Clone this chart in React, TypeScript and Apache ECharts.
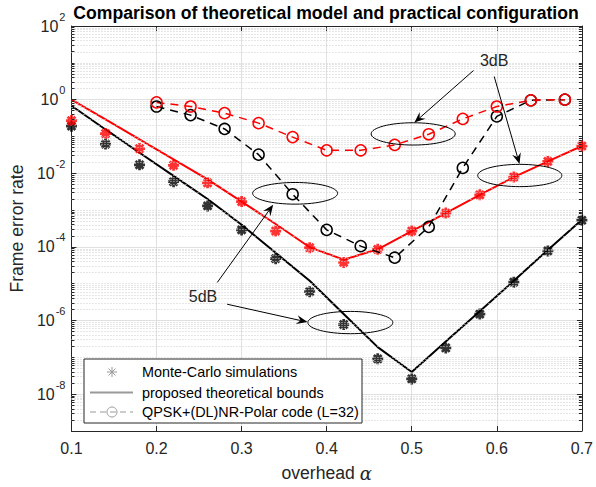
import React, { useEffect, useRef } from "react";
import * as echarts from "echarts";

// ---------- data ----------
const alphaMC = [0.1, 0.14, 0.18, 0.22, 0.26, 0.3, 0.34, 0.38, 0.42, 0.46, 0.5, 0.54, 0.58, 0.62, 0.66, 0.7];
const mc5dB = [0.19, 0.062, 0.017, 5.9e-3, 1.3e-3, 2.9e-4, 4.8e-5, 6.1e-6, 7.8e-7, 9.1e-8, 2.6e-8, 1.8e-7, 1.5e-6, 1.1e-5, 7.8e-5, 5.3e-4];
const mc3dB = [0.27, 0.12, 0.047, 0.0165, 5.5e-3, 1.7e-3, 2.7e-4, 9.5e-5, 3.8e-5, 8.6e-5, 2.7e-4, 8.3e-4, 2.6e-3, 7.9e-3, 0.021, 0.055];
const bound5dB = [0.68, 0.155, 0.036, 8.5e-3, 2.0e-3, 4.0e-4, 6.9e-5, 1.2e-5, 1.5e-6, 1.9e-7, 4.0e-8, 2.7e-7, 1.8e-6, 1.2e-5, 8.3e-5, 5.5e-4];
const bound3dB = [1.0, 0.29, 0.083, 0.024, 6.8e-3, 1.7e-3, 4.2e-4, 9.8e-5, 4.5e-5, 8.6e-5, 2.7e-4, 8.3e-4, 2.6e-3, 7.9e-3, 0.021, 0.055];
const alphaPolar = [0.2, 0.24, 0.28, 0.32, 0.36, 0.4, 0.44, 0.48, 0.52, 0.56, 0.6, 0.64, 0.68];
const polar5dB = [0.65, 0.38, 0.16, 0.032, 2.7e-3, 2.9e-4, 1.05e-4, 5.1e-5, 3.5e-4, 0.014, 0.35, 0.96, 1.0];
const polar3dB = [0.84, 0.65, 0.43, 0.23, 0.096, 0.042, 0.042, 0.059, 0.115, 0.3, 0.65, 0.96, 1.0];
const xMin = 0.1;
const xMax = 0.7;
const xStep = 0.1;
const yDecMin = -9;
const yDecMax = 2;

// annotations, anchored in data space [alpha, FER]
const ellipses = [
  { at: [0.5017, 0.1173], rxA: 0.0487, ryDec: 0.296 },
  { at: [0.627, 8.7e-3], rxA: 0.0487, ryDec: 0.296 },
  { at: [0.3629, 2.855e-3], rxA: 0.0492, ryDec: 0.288 },
  { at: [0.4278, 8.82e-7], rxA: 0.0492, ryDec: 0.296 },
];
const arrows3dB = [
  { from: [0.5726, 6.18], to: [0.5031, 0.239] },
  { from: [0.5969, 4.26], to: [0.6267, 0.01775] },
];
const arrows5dB = [
  { from: [0.2714, 1.084e-5], to: [0.3371, 1.4e-3] },
  { from: [0.283, 2.775e-6], to: [0.3774, 9.1e-7] },
];
const label3dB = { text: "3dB", at: [0.5969, 11.47] };
const label5dB = { text: "5dB", at: [0.2546, 4.55e-6] };

const legendTexts = [
  "Monte-Carlo simulations",
  "proposed theoretical bounds",
  "QPSK+(DL)NR-Polar code (L=32)",
];
const titleText = "Comparison of theoretical model and practical configuration";

// ---------- layout / style ----------
const FONT = "'Liberation Sans', Arial, Helvetica, sans-serif";
const AX = "#262626";
const G = { left: 67, top: 26, width: 518, height: 414 };
const pxX = (xMax - xMin) / G.width;

const toPts = (xs: number[], ys: number[]) => xs.map((x, i) => [x, Math.log10(ys[i])]);

function asteriskPath(): string {
  const c = 5, L = 5, W = 1.25;
  let d = "";
  for (const deg of [0, 45, 90, 135]) {
    const a = (deg * Math.PI) / 180;
    const ca = Math.cos(a), sa = Math.sin(a);
    const pts = [[-L, -W], [L, -W], [L, W], [-L, W]].map(([u, v]) => [c + u * ca - v * sa, c + u * sa + v * ca]);
    d += "M" + pts.map((p) => p[0].toFixed(3) + "," + p[1].toFixed(3)).join("L") + "Z";
  }
  return "path://" + d;
}
const ASTER = asteriskPath();

function arrow(x1: number, y1: number, x2: number, y2: number) {
  const dx = x2 - x1, dy = y2 - y1;
  const L = Math.hypot(dx, dy);
  const ux = dx / L, uy = dy / L;
  const hl = 11, hw = 4.5, notch = 7;
  const bx = x2 - ux * hl, by = y2 - uy * hl;
  const nx = -uy, ny = ux;
  return [
    { type: "line", z: 100, shape: { x1, y1, x2: x2 - ux * notch, y2: y2 - uy * notch }, style: { stroke: "#000", lineWidth: 1 } },
    {
      type: "polygon", z: 100,
      shape: { points: [[x2, y2], [bx + nx * hw, by + ny * hw], [x2 - ux * notch, y2 - uy * notch], [bx - nx * hw, by - ny * hw]] },
      style: { fill: "#000" },
    },
  ];
}

export default function App() {
  const ref = useRef<HTMLDivElement>(null);
  useEffect(() => {
    document.body.style.margin = "0";
    const chart = echarts.init(ref.current!, null, { renderer: "svg" });

    const minorGrid: any[] = [];
    const ticks: any[] = [];
    for (let k = yDecMin; k < yDecMax; k++) {
      for (let m = 1; m <= 9; m++) {
        if (m === 1 && k === yDecMin) continue;
        const v = k + Math.log10(m);
        const major = m === 1 && k % 2 === 0;
        if (!major) minorGrid.push({ yAxis: v });
        const len = (major ? 5 : 3) * pxX;
        ticks.push([{ coord: [xMin, v] }, { coord: [xMin + len, v] }]);
        ticks.push([{ coord: [xMax, v] }, { coord: [xMax - len, v] }]);
      }
    }

    const asterSeries = (name: string, ys: number[], color: string) => ({
      name, type: "scatter", data: toPts(alphaMC, ys), symbol: ASTER, symbolSize: 11, z: 4,
      itemStyle: { color },
    });
    const boundSeries = (name: string, ys: number[], color: string) => ({
      name, type: "line", data: toPts(alphaMC, ys), showSymbol: false, symbol: "none", z: 3,
      lineStyle: { color, width: 2 },
    });
    const polarSeries = (name: string, ys: number[], color: string) => ({
      name, type: "line", data: toPts(alphaPolar, ys), symbol: "circle", symbolSize: 11, z: 5,
      lineStyle: { color, width: 1.5, type: [8, 6] },
      itemStyle: { color: "rgba(0,0,0,0)", borderColor: color, borderWidth: 1.5 },
    });

    chart.setOption({
      animation: false,
      backgroundColor: "#fff",
      grid: { left: G.left, top: G.top, width: G.width, height: G.height, containLabel: false },
      xAxis: [
        {
          type: "value", min: xMin, max: xMax, interval: xStep, position: "bottom",
          axisLine: { show: true, onZero: false, lineStyle: { color: AX, width: 1 } },
          axisTick: { show: true, inside: true, length: 5, lineStyle: { color: AX } },
          axisLabel: { formatter: (v: number) => v.toFixed(1), color: AX, fontSize: 16, fontFamily: FONT, margin: 9 },
          splitLine: { show: true, lineStyle: { color: "#e0e0e0", width: 1 } },
          name: "{t|overhead }{a|α}", nameLocation: "middle", nameGap: 33,
          nameTextStyle: {
            color: AX,
            rich: {
              t: { fontSize: 17.6, fontFamily: FONT, color: AX },
              a: { fontSize: 18, fontFamily: "'DejaVu Serif', serif", fontStyle: "italic", color: AX },
            },
          },
        },
        {
          type: "value", min: xMin, max: xMax, interval: xStep, position: "top",
          axisLine: { show: true, onZero: false, lineStyle: { color: AX, width: 1 } },
          axisTick: { show: true, inside: true, length: 5, lineStyle: { color: AX } },
          axisLabel: { show: false }, splitLine: { show: false },
        },
      ],
      yAxis: [
        {
          type: "value", min: yDecMin, max: yDecMax, interval: 1,
          axisLine: { show: true, onZero: false, lineStyle: { color: AX, width: 1 } },
          axisTick: { show: false },
          axisLabel: {
            margin: 6,
            formatter: (v: number) => {
              const k = Math.round(v);
              return k % 2 === 0 ? `{b|10}{s|${k === 0 ? 0 : k}}` : "";
            },
            rich: {
              b: { fontSize: 16, fontFamily: FONT, color: AX, lineHeight: 16, padding: [10, 0, 0, 0], verticalAlign: "bottom" },
              s: { fontSize: 11, fontFamily: FONT, color: AX, lineHeight: 11, padding: [0, 0, 12, 1], verticalAlign: "bottom" },
            },
          },
          splitLine: { show: true, lineStyle: { color: ["rgba(0,0,0,0)", "#e0e0e0"], width: 1 } },
          name: "Frame error rate", nameLocation: "middle", nameGap: 40,
          nameTextStyle: { fontSize: 17.6, fontFamily: FONT, color: AX },
        },
        {
          type: "value", min: yDecMin, max: yDecMax, interval: 1, position: "right",
          axisLine: { show: true, onZero: false, lineStyle: { color: AX, width: 1 } },
          axisTick: { show: false }, axisLabel: { show: false }, splitLine: { show: false },
        },
      ],
      series: [
        {
          name: "minorGrid", type: "line", data: [[xMin, yDecMin]], symbol: "none", silent: true, z: 1,
          lineStyle: { width: 0 },
          markLine: {
            silent: true, symbol: ["none", "none"], label: { show: false }, animation: false,
            lineStyle: { color: "#cccccc", width: 1, type: [1, 2] }, emphasis: { disabled: true },
            data: minorGrid,
          },
        },
        {
          name: "ticks", type: "line", data: [[xMin, yDecMin]], symbol: "none", silent: true, z: 6,
          lineStyle: { width: 0 },
          markLine: {
            silent: true, symbol: ["none", "none"], label: { show: false }, animation: false,
            lineStyle: { color: AX, width: 1, type: "solid" }, emphasis: { disabled: true },
            data: ticks,
          },
        },
        boundSeries("bound 5dB", bound5dB, "#000000"),
        boundSeries("bound 3dB", bound3dB, "#ff0000"),
        asterSeries("MC 5dB", mc5dB, "#000000"),
        asterSeries("MC 3dB", mc3dB, "#ff0000"),
        polarSeries("Polar 5dB", polar5dB, "#000000"),
        polarSeries("Polar 3dB", polar3dB, "#ff0000"),
      ],
    });

    // annotations placed through the axes' own scales
    const P = (p: number[]) => chart.convertToPixel({ xAxisIndex: 0, yAxisIndex: 0 }, [p[0], Math.log10(p[1])]) as number[];
    const pxPerA = G.width / (xMax - xMin);
    const pxPerDec = G.height / (yDecMax - yDecMin);

    const graphic: any[] = [
      { type: "text", z: 100, x: G.left + G.width / 2, y: 13, style: { text: titleText, font: `bold 17.6px ${FONT}`, fill: "#000", align: "center", verticalAlign: "middle" } },
    ];
    for (const e of ellipses) {
      const c = P(e.at);
      graphic.push({ type: "ellipse", z: 100, shape: { cx: c[0], cy: c[1], rx: e.rxA * pxPerA, ry: e.ryDec * pxPerDec }, style: { fill: "none", stroke: "#000", lineWidth: 1 } });
    }
    for (const a of [...arrows3dB, ...arrows5dB]) {
      const f = P(a.from), t = P(a.to);
      graphic.push(...arrow(f[0], f[1], t[0], t[1]));
    }
    for (const l of [label3dB, label5dB]) {
      const c = P(l.at);
      graphic.push({ type: "text", z: 100, x: c[0], y: c[1], style: { text: l.text, font: `16px ${FONT}`, fill: "#262626", align: "center", verticalAlign: "middle" } });
    }
    // legend
    const lgY = [372, 392.5, 412];
    const lgGray = "#999999";
    graphic.push(
      { type: "rect", z: 100, shape: { x: 84, y: 359, width: 278, height: 64 }, style: { fill: "#fff", stroke: AX, lineWidth: 1 } },
      { type: "line", z: 101, shape: { x1: 107, y1: lgY[0], x2: 117, y2: lgY[0] }, style: { stroke: lgGray, lineWidth: 1 } },
      { type: "line", z: 101, shape: { x1: 112, y1: lgY[0] - 5, x2: 112, y2: lgY[0] + 5 }, style: { stroke: lgGray, lineWidth: 1 } },
      { type: "line", z: 101, shape: { x1: 108.5, y1: lgY[0] - 3.5, x2: 115.5, y2: lgY[0] + 3.5 }, style: { stroke: lgGray, lineWidth: 1 } },
      { type: "line", z: 101, shape: { x1: 108.5, y1: lgY[0] + 3.5, x2: 115.5, y2: lgY[0] - 3.5 }, style: { stroke: lgGray, lineWidth: 1 } },
      { type: "line", z: 101, shape: { x1: 90, y1: lgY[1], x2: 133, y2: lgY[1] }, style: { stroke: lgGray, lineWidth: 2 } },
      { type: "line", z: 101, shape: { x1: 90, y1: lgY[2], x2: 133, y2: lgY[2] }, style: { stroke: lgGray, lineWidth: 1, lineDash: [6, 4] } },
      { type: "circle", z: 101, shape: { cx: 112, cy: lgY[2], r: 5 }, style: { fill: "none", stroke: lgGray, lineWidth: 1 } },
      ...legendTexts.map((t, i) => ({
        type: "text", z: 101, x: 142, y: lgY[i], style: { text: t, font: `14.4px ${FONT}`, fill: "#000", align: "left", verticalAlign: "middle" },
      }))
    );
    chart.setOption({ graphic });
    return () => chart.dispose();
  }, []);
  return <div ref={ref} style={{ width: 596, height: 487, background: "#fff" }} />;
}
